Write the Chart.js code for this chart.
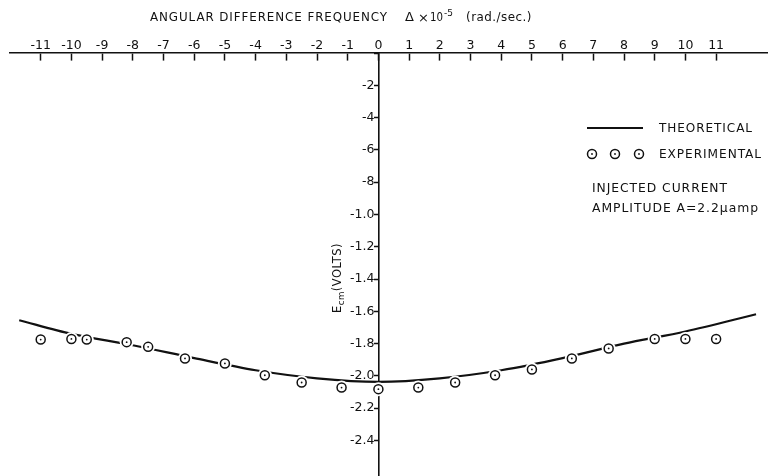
<!DOCTYPE html>
<html>
<head>
<meta charset="utf-8">
<script src="https://cdn.jsdelivr.net/npm/chart.js@4/dist/chart.umd.min.js"></script>
<style>
  html, body { margin: 0; padding: 0; background: #fff; }
  #wrap { width: 768px; height: 476px; position: relative; }
</style>
</head>
<body>
<div id="wrap"><canvas id="chart"></canvas></div>
<script>
// Angular difference frequency vs E_cm, theoretical curve + measured points

const xTicks = [-11, -10, -9, -8, -7, -6, -5, -4, -3, -2, -1, 0, 1, 2, 3, 4, 5, 6, 7, 8, 9, 10, 11];
const yTicks = [0, -0.2, -0.4, -0.6, -0.8, -1.0, -1.2, -1.4, -1.6, -1.8, -2.0, -2.2, -2.4];

// theoretical curve
const theoX = [-11.7, -10, -8, -6, -4, -2, 0, 2, 4, 6, 8, 10, 12.3];
const theoY = [-1.655, -1.74, -1.81, -1.89, -1.965, -2.015, -2.037, -2.015, -1.965, -1.89, -1.80, -1.725, -1.618];

// experimental points
const expX = [-11, -10, -9.5, -8.2, -7.5, -6.3, -5, -3.7, -2.5, -1.2, 0, 1.3, 2.5, 3.8, 5, 6.3, 7.5, 9, 10, 11];
const expY = [-1.775, -1.771, -1.775, -1.791, -1.82, -1.892, -1.923, -1.996, -2.041, -2.072, -2.082, -2.072, -2.041, -1.996, -1.96, -1.892, -1.83, -1.771, -1.771, -1.771];

const FONT = '"DejaVu Sans", sans-serif';
const INK = '#111';

const theoData = theoX.map((x, i) => ({ x, y: theoY[i] }));
const expData = expX.map((x, i) => ({ x, y: expY[i] }));

// y labels written the way the original plate has them (-2 ... -8, then -1.0 ...)
// trailing space keeps them off the axis line (centre-positioned axes ignore ticks.padding)
function yLabel(v) {
  if (Math.abs(v) < 1e-9) return '';
  if (v > -0.99) return '-' + Math.round(-v * 10) + ' ';
  return v.toFixed(1) + ' ';
}

function drawCircle(ctx, x, y) {
  ctx.beginPath();
  ctx.arc(x, y, 4.5, 0, Math.PI * 2);
  ctx.fillStyle = '#fff';
  ctx.fill();
  ctx.lineWidth = 1.5;
  ctx.strokeStyle = INK;
  ctx.stroke();
  ctx.beginPath();
  ctx.arc(x, y, 0.9, 0, Math.PI * 2);
  ctx.fillStyle = INK;
  ctx.fill();
}

// draw text squeezed/stretched so it spans x0..x1 (lettering on the plate is narrow)
function fitText(ctx, text, x0, x1, y, size) {
  ctx.font = size + 'px ' + FONT;
  const w = ctx.measureText(text).width;
  ctx.save();
  ctx.translate(x0, y);
  ctx.scale((x1 - x0) / w, 1);
  ctx.fillText(text, 0, 0);
  ctx.restore();
}

const annotations = {
  id: 'annotations',
  afterDraw(chart) {
    const ctx = chart.ctx;
    ctx.save();
    ctx.fillStyle = INK;
    ctx.textBaseline = 'middle';
    ctx.textAlign = 'left';
    ctx.letterSpacing = '1px';

    // top title
    fitText(ctx, 'ANGULAR DIFFERENCE FREQUENCY', 150, 388, 18, 13);
    ctx.letterSpacing = '0px';
    ctx.font = '13px ' + FONT;
    ctx.fillText('\u0394', 405, 18);
    ctx.fillText('\u00d7', 418, 19);
    fitText(ctx, '10', 430, 443, 18, 13);
    ctx.font = '9px ' + FONT;
    ctx.fillText('-5', 444, 14);
    ctx.letterSpacing = '0.5px';
    fitText(ctx, '(rad./sec.)', 466, 532, 18, 12.5);

    // legend
    ctx.letterSpacing = '1px';
    ctx.beginPath();
    ctx.moveTo(587, 128);
    ctx.lineTo(643, 128);
    ctx.lineWidth = 2;
    ctx.strokeStyle = INK;
    ctx.stroke();
    fitText(ctx, 'THEORETICAL', 659, 753, 129, 13);
    [592, 615, 639].forEach(x => drawCircle(ctx, x, 154));
    ctx.fillStyle = INK;
    fitText(ctx, 'EXPERIMENTAL', 659, 762, 155, 13);
    fitText(ctx, 'INJECTED CURRENT', 592, 728, 189, 13);
    fitText(ctx, 'AMPLITUDE A=2.2\u03bcamp', 592, 759, 209, 13);

    // y axis title, rotated, with subscript
    ctx.translate(338, 278);
    ctx.rotate(-Math.PI / 2);
    ctx.letterSpacing = '0.5px';
    ctx.font = '12px ' + FONT;
    const w1 = ctx.measureText('E').width;
    ctx.font = '9px ' + FONT;
    const w2 = ctx.measureText('cm').width;
    ctx.font = '12px ' + FONT;
    const w3 = ctx.measureText('(VOLTS)').width;
    const total = w1 + w2 + w3;
    ctx.scale(70 / total, 1);
    const x0 = -total / 2;
    ctx.fillText('E', x0, 0);
    ctx.font = '9px ' + FONT;
    ctx.fillText('cm', x0 + w1, 4);
    ctx.font = '12px ' + FONT;
    ctx.fillText('(VOLTS)', x0 + w1 + w2, 0);
    ctx.restore();
  }
};

// keep the plot area exactly where the layout padding puts it
const noPad = s => { s.paddingTop = 0; s.paddingBottom = 0; s.paddingLeft = 0; s.paddingRight = 0; };

new Chart(document.getElementById('chart'), {
  type: 'line',
  data: {
    datasets: [
      {
        label: 'THEORETICAL',
        data: theoData,
        borderColor: INK,
        borderWidth: 2.2,
        pointRadius: 0,
        tension: 0.3,
        fill: false,
        order: 4
      },
      {
        // white halo that breaks the curve round each circle
        label: 'gap',
        data: expData,
        showLine: false,
        pointRadius: 7,
        pointBackgroundColor: '#fff',
        pointBorderWidth: 0,
        pointBorderColor: '#fff',
        order: 3
      },
      {
        label: 'EXPERIMENTAL',
        data: expData,
        showLine: false,
        pointRadius: 4.5,
        pointBackgroundColor: '#fff',
        pointBorderColor: INK,
        pointBorderWidth: 1.5,
        order: 2
      },
      {
        label: 'dot',
        data: expData,
        showLine: false,
        pointRadius: 0.9,
        pointBackgroundColor: INK,
        pointBorderWidth: 0,
        order: 1
      }
    ]
  },
  options: {
    responsive: true,
    maintainAspectRatio: false,
    animation: false,
    events: [],
    layout: { autoPadding: false, padding: { left: 10, right: 0, top: 53, bottom: 0 } },
    plugins: { legend: { display: false }, tooltip: { enabled: false } },
    scales: {
      x: {
        type: 'linear',
        position: { y: 0 },
        min: -12,
        max: 12.69,
        afterFit: noPad,
        afterBuildTicks: s => { s.ticks = xTicks.map(v => ({ value: v })); },
        grid: { drawOnChartArea: false, drawTicks: true, tickLength: 7, tickWidth: 1.5, tickColor: INK },
        border: { display: true, color: INK, width: 1.6 },
        ticks: {
          autoSkip: false,
          maxRotation: 0,
          padding: -21.5,
          color: INK,
          font: { family: FONT, size: 12.5 },
          callback: v => String(v)
        }
      },
      y: {
        type: 'linear',
        position: { x: 0 },
        min: -2.62,
        max: 0,
        z: 1,
        afterFit: noPad,
        afterBuildTicks: s => { s.ticks = yTicks.map(v => ({ value: v })); },
        grid: { drawOnChartArea: false, drawTicks: true, tickLength: 4, tickWidth: 1.5, tickColor: INK },
        border: { display: true, color: INK, width: 1.6 },
        ticks: {
          autoSkip: false,
          color: INK,
          font: { family: FONT, size: 12.5 },
          callback: v => yLabel(v)
        }
      }
    }
  },
  plugins: [annotations]
});
</script>
</body>
</html>
